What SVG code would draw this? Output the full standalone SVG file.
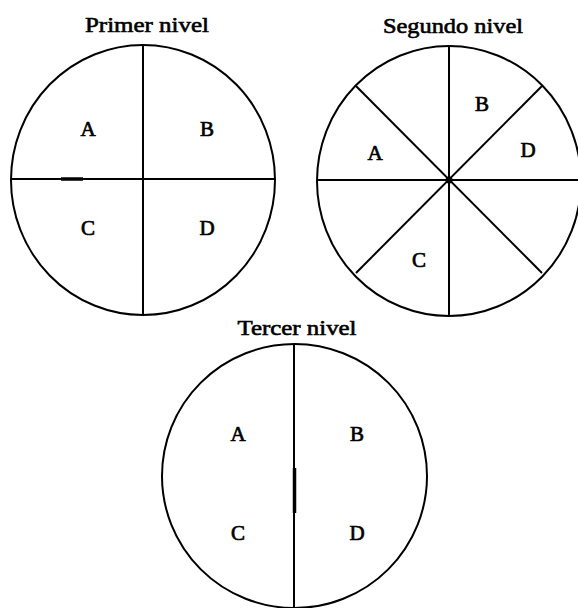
<svg xmlns="http://www.w3.org/2000/svg" width="578" height="608" viewBox="0 0 578 608">
  <style>
    .ring { fill: none; stroke: #000; stroke-width: 2; }
    .div { stroke: #000; stroke-width: 2; fill: none; }
    .thick { stroke: #000; stroke-width: 3.5; }
    .title { font-family: "Liberation Serif", "Times New Roman", serif; font-size: 21px; fill: #000; stroke: #000; stroke-width: 0.6; text-anchor: middle; }
    .lbl { font-family: "Liberation Serif", "Times New Roman", serif; font-size: 21px; fill: #000; stroke: #000; stroke-width: 0.7; text-anchor: middle; }
  </style>
  <rect width="578" height="608" fill="#fff"/>

  <g id="primer-nivel">
    <text class="title" x="147" y="32" textLength="124" lengthAdjust="spacingAndGlyphs">Primer nivel</text>
    <ellipse class="ring" cx="143" cy="180" rx="132" ry="135"/>
    <line class="div" x1="143" y1="45" x2="143" y2="315"/>
    <line class="div" x1="11" y1="179" x2="275" y2="179"/>
    <line class="thick" x1="61" y1="179" x2="83" y2="179"/>
    <text class="lbl" x="88" y="136">A</text>
    <text class="lbl" x="207" y="136">B</text>
    <text class="lbl" x="88" y="235">C</text>
    <text class="lbl" x="207" y="235">D</text>
  </g>

  <g id="segundo-nivel">
    <text class="title" x="453" y="33" textLength="140" lengthAdjust="spacingAndGlyphs">Segundo nivel</text>
    <ellipse class="ring" cx="449" cy="181" rx="132" ry="135"/>
    <line class="div" x1="449" y1="45" x2="449" y2="316"/>
    <line class="div" x1="317" y1="180" x2="578" y2="180"/>
    <line class="div" x1="356" y1="86" x2="542" y2="273"/>
    <line class="div" x1="542" y1="86" x2="356" y2="273"/>
    <circle cx="449" cy="180" r="3.5" fill="#000"/>
    <text class="lbl" x="375" y="160">A</text>
    <text class="lbl" x="482" y="111">B</text>
    <text class="lbl" x="419" y="267">C</text>
    <text class="lbl" x="528" y="157">D</text>
  </g>

  <g id="tercer-nivel">
    <text class="title" x="297" y="335" textLength="119" lengthAdjust="spacingAndGlyphs">Tercer nivel</text>
    <ellipse class="ring" cx="294.5" cy="476" rx="132.5" ry="132"/>
    <line class="div" x1="294" y1="344" x2="294" y2="608"/>
    <line class="thick" x1="294.5" y1="468" x2="294.5" y2="513"/>
    <text class="lbl" x="238" y="441">A</text>
    <text class="lbl" x="357" y="441">B</text>
    <text class="lbl" x="238" y="540">C</text>
    <text class="lbl" x="357" y="540">D</text>
  </g>

  <g id="connectors"/>
</svg>
